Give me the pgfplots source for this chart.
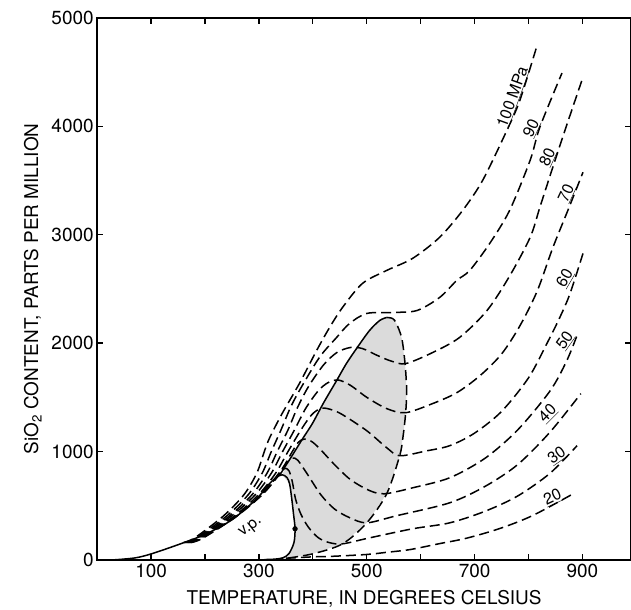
\documentclass[border=0pt]{standalone}
\usepackage{fontspec}
\setmainfont{TeX Gyre Heros}
\usepackage{pgfplots}
\pgfplotsset{compat=1.18}
\pgfplotsset{
  iso/.style={black, line width=1.5bp, dash pattern=on 10bp off 5bp, smooth, no marks},
  sol/.style={black, line width=1.5bp, smooth, no marks},
}
\newcommand{\lbl}{\fontsize{16}{16}\selectfont}
\begin{document}
\begin{tikzpicture}
\useasboundingbox (-97bp,-50bp) rectangle (533bp,559bp);
\begin{axis}[
  scale only axis, width=533bp, height=541bp,
  xmin=0, xmax=990, ymin=0, ymax=5000,
  xtick={100,200,...,900}, xticklabels={100,,300,,500,,700,,900},
  ytick={0,1000,...,5000}, yticklabels={0,1000,2000,3000,4000,5000},
  tick align=inside, major tick length=6bp,
  axis line style={line width=1.6bp},
  every tick/.style={line width=1.3bp, black},
  ticklabel style={font=\fontsize{19}{19}\selectfont},
  xticklabel style={yshift=-1bp},
  xlabel={TEMPERATURE, IN DEGREES CELSIUS},
  ylabel={SiO\textsubscript{2} CONTENT, PARTS PER MILLION},
  label style={font=\fontsize{19}{19}\selectfont},
  xlabel style={yshift=-5bp},
  ylabel style={yshift=3bp},
]
% retrograde solubility region
\addplot[fill=black!14, draw=none] coordinates {
  (343,785) (360,950) (381,1118) (399,1257) (420,1450) (444,1654) (462,1810)
  (481,1950) (505,2116) (524,2209) (537,2237) (548,2227) (555,2181) (565,2043)
  (571,1811) (574,1562) (572,1349) (567,1128) (561,961) (537,610) (500,342)
  (455,148) (399,55) (343,9) (334,9) (351,37) (364,129) (367,287) (361,560)
  (357,700) (343,785)} -- cycle;
% vapour pressure curve with loop
\addplot[sol] coordinates {
  (30,0) (70,18) (100,55) (150,140) (200,235) (250,370) (295,560) (319,700)
  (332,760) (343,785) (352,760) (357,700) (361,560) (364,430) (367,287)
  (365,160) (356,60) (345,20) (330,7) (310,3)};
% locus of maxima
\addplot[sol] coordinates {
  (338,778) (360,950) (381,1118) (399,1257) (420,1450) (444,1654) (462,1810)
  (481,1950) (505,2116) (524,2209) (537,2237)};
% locus of minima
\addplot[iso] coordinates {
  (537,2237) (548,2227) (555,2181) (565,2043) (571,1811) (574,1562) (572,1349)
  (567,1128) (561,961) (537,610) (500,342) (455,148) (399,55) (343,9)};
% critical point
\addplot[only marks, mark=*, mark size=2.4bp, black] coordinates {(367,287)};
% isobars
\addplot[iso] coordinates {
  (160,160) (180,200) (233,400) (272,600) (296,800) (310,1000) (320,1128)
  (343,1350) (375,1627) (407,1932) (431,2144) (455,2329) (492,2551) (537,2671)
  (585,2782) (635,2976) (678,3226) (715,3503) (760,3965) (784,4242) (816,4750)};
\addplot[iso] coordinates {
  (162,160) (183,200) (239,400) (280,600) (306,800) (323,1000) (341,1200)
  (358,1400) (375,1562) (412,1867) (444,2052) (468,2181) (500,2274) (548,2283)
  (593,2301) (635,2421) (667,2579) (691,2671) (728,2920) (765,3226) (803,3688)
  (821,3993) (862,4492)};
\addplot[iso] coordinates {
  (164,160) (186,200) (244,400) (287,600) (315,800) (334,1000) (354,1200)
  (371,1400) (392,1600) (420,1800) (445,1915) (470,1960) (492,1950) (518,1890)
  (545,1835) (572,1811) (622,1913) (672,2052) (723,2301) (765,2620) (803,2976)
  (821,3253) (845,3623) (870,4000) (901,4455)};
\addplot[iso] coordinates {
  (166,160) (188,200) (248,400) (293,600) (323,800) (344,1000) (366,1200)
  (387,1400) (410,1560) (428,1635) (447,1660) (470,1610) (500,1500) (537,1396)
  (572,1358) (622,1442) (667,1543) (710,1700) (750,1900) (784,2160) (816,2480)
  (845,2880) (873,3226) (901,3577)};
\addplot[iso] coordinates {
  (168,160) (190,200) (253,400) (299,600) (331,800) (354,1000) (378,1200)
  (398,1340) (416,1400) (435,1385) (455,1340) (500,1192) (537,1035) (561,961)
  (610,1005) (654,1054) (700,1170) (750,1370) (800,1680) (834,1996) (858,2237)
  (877,2458) (901,2828)};
\addplot[iso] coordinates {
  (170,160) (192,200) (256,400) (304,600) (338,800) (362,1000) (373,1085)
  (384,1115) (397,1095) (412,1030) (440,880) (470,740) (505,640) (533,610)
  (585,665) (654,758) (720,940) (780,1200) (840,1560) (871,1839) (892,2098)};
\addplot[iso] coordinates {
  (172,160) (194,200) (257,400) (305,600) (337,800) (352,900) (362,940)
  (372,920) (390,790) (415,600) (440,470) (468,390) (500,342) (555,407)
  (654,527) (720,680) (780,880) (840,1180) (897,1534)};
\addplot[iso] coordinates {
  (174,160) (196,200) (258,400) (306,600) (332,750) (342,820) (349,845)
  (356,820) (362,720) (368,560) (378,420) (392,300) (410,205) (430,160)
  (455,148) (505,203) (585,287) (654,342) (720,450) (780,590) (840,800)
  (890,1054)};
\addplot[iso] coordinates {
  (350,15) (400,28) (436,33) (500,50) (537,70) (580,95) (635,150) (685,200)
  (747,290) (808,410) (886,619)};
% labels
\node[rotate=70, font=\lbl] at (axis cs:771,4270) {\underline{100 MPa}};
\node[rotate=65, font=\lbl] at (axis cs:806,3983) {\underline{90}};
\node[rotate=65, font=\lbl] at (axis cs:836,3715) {\underline{80}};
\node[rotate=65, font=\lbl] at (axis cs:871,3383) {\underline{70}};
\node[rotate=60, font=\lbl] at (axis cs:868,2597) {\underline{60}};
\node[rotate=55, font=\lbl] at (axis cs:868,2024) {\underline{50}};
\node[rotate=45, font=\lbl] at (axis cs:836,1349) {\underline{40}};
\node[rotate=35, font=\lbl] at (axis cs:853,961) {\underline{30}};
\node[rotate=25, font=\lbl] at (axis cs:845,573) {\underline{20}};
\node[rotate=38, font=\lbl] at (axis cs:285,300) {v.p.};
\end{axis}
\end{tikzpicture}
\end{document}
